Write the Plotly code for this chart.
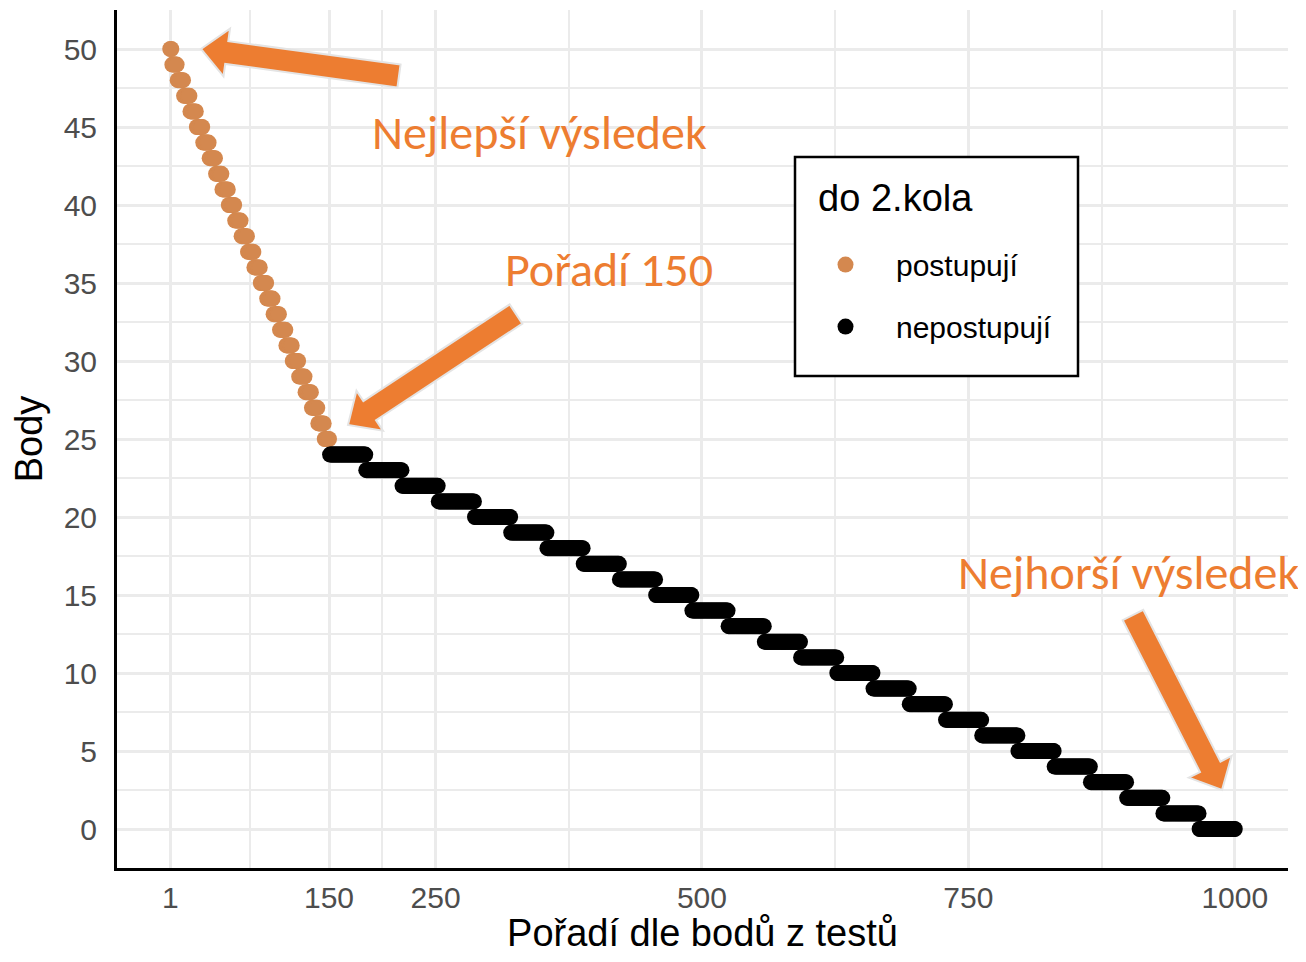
import math
import numpy as np
import plotly.graph_objects as go

# ---------------- data ----------------
# score levels of those who advance (ranks 1..150) and how many ranks share each score
adv_scores = [50, 49, 48, 47, 46, 45, 44, 43, 42, 41, 40, 39, 38,
              37, 36, 35, 34, 33, 32, 31, 30, 29, 28, 27, 26, 25]
adv_counts = [2, 5, 6, 6, 6, 6, 6, 6, 6, 6, 6, 6, 6,
              6, 6, 6, 6, 6, 6, 6, 6, 6, 6, 6, 6, 5]
# score levels of those who do not advance (ranks 151..1000)
rest_scores = [24, 23, 22, 21, 20, 19, 18, 17, 16, 15, 14, 13, 12,
               11, 10, 9, 8, 7, 6, 5, 4, 3, 2, 1, 0]
rest_counts = [34, 34, 34, 34, 34, 34, 34, 34, 34, 34, 34, 34, 34,
               34, 34, 34, 34, 34, 34, 34, 34, 34, 34, 34, 34]

x_ticks = [1, 150, 250, 500, 750, 1000]
x_minor = [75.5, 200, 375, 625, 875]
y_ticks = [0, 5, 10, 15, 20, 25, 30, 35, 40, 45, 50]
y_minor = [2.5, 7.5, 12.5, 17.5, 22.5, 27.5, 32.5, 37.5, 42.5, 47.5]

legend_title = "do 2.kola"
names = ["postupují", "nepostupují"]
x_title = "Pořadí dle bodů z testů"
y_title = "Body"

# expand to one value per rank
adv_y = np.repeat(adv_scores, adv_counts)
rest_y = np.repeat(rest_scores, rest_counts)
adv_x = np.arange(1, len(adv_y) + 1)
rest_x = np.arange(len(adv_y) + 1, len(adv_y) + len(rest_y) + 1)

# ---------------- layout geometry (page pixels; page body has 8px margin) ----------------
OFF = 8
W, H = 1306 - 2 * OFF, 962 - 2 * OFF
PLOT_L, PLOT_R, PLOT_T, PLOT_B = 117, 1288, 10, 868   # page coordinates of plot area
L_M, T_M = PLOT_L - OFF, PLOT_T - OFF
R_M, B_M = W - (PLOT_R - OFF), H - (PLOT_B - OFF)
PW, PH = PLOT_R - PLOT_L, PLOT_B - PLOT_T


def px(x, y):
    return (x - PLOT_L) / PW, (PLOT_B - y) / PH


def arrow_path(tail, tip, w=11.5, h=24, hl=26):
    tx, ty = tail
    ex, ey = tip
    dx, dy = ex - tx, ey - ty
    d = math.hypot(dx, dy)
    ux, uy = dx / d, dy / d
    nx, ny = -uy, ux
    bx, by = ex - hl * ux, ey - hl * uy
    pts = [(tx + w * nx, ty + w * ny), (bx + w * nx, by + w * ny),
           (bx + h * nx, by + h * ny), (ex, ey),
           (bx - h * nx, by - h * ny), (bx - w * nx, by - w * ny),
           (tx - w * nx, ty - w * ny)]
    parts = []
    for i, (x, y) in enumerate(pts):
        a, b = px(x, y)
        parts.append(("M" if i == 0 else "L") + f"{a:.5f},{b:.5f}")
    return " ".join(parts) + " Z"


ORANGE_PT = "#D4884F"
ORANGE = "#ED7D31"

fig = go.Figure()
fig.add_trace(go.Scatter(
    x=adv_x, y=adv_y, mode="markers", name=names[0], legendgroup="a",
    marker=dict(color=ORANGE_PT, size=16, line=dict(width=0)),
    cliponaxis=False))
fig.add_trace(go.Scatter(
    x=rest_x, y=rest_y, mode="markers", name=names[1], legendgroup="b",
    marker=dict(color="black", size=16, line=dict(width=0)),
    cliponaxis=False))

shapes = []
for tail, tip in [((399, 76), (201, 49)), ((516, 314), (348, 425)),
                  ((1133, 615), (1222, 790))]:
    shapes.append(dict(type="path", xref="paper", yref="paper",
                       path=arrow_path(tail, tip), fillcolor=ORANGE,
                       line=dict(color="#E4E4E4", width=2), layer="above"))

# legend frame
bx0, by0 = px(795, 157)
bx1, by1 = px(1078, 376)
shapes.append(dict(type="rect", xref="paper", yref="paper",
                   x0=bx0, y0=by0, x1=bx1, y1=by1,
                   fillcolor="white", line=dict(color="black", width=2.5),
                   layer="above"))

ann_font = dict(family="Carlito, Lato, sans-serif", size=48, color=ORANGE)
annotations = []
for text, (x, y) in [("Nejlepší výsledek", (370, 133)),
                     ("Pořadí 150", (503, 270)),
                     ("Nejhorší výsledek", (956, 572))]:
    a, b = px(x, y)
    annotations.append(dict(text=text, x=a, y=b, xref="paper", yref="paper",
                            xanchor="left", yanchor="middle", showarrow=False,
                            font=ann_font))

lx, ly = px(795, 184)

fig.update_layout(
    width=W, height=H,
    margin=dict(l=L_M, r=R_M, t=T_M, b=B_M, autoexpand=False),
    paper_bgcolor="white", plot_bgcolor="white",
    font=dict(family="Liberation Sans, Arial, sans-serif"),
    shapes=shapes, annotations=annotations,
    legend=dict(
        title=dict(text="<span style='font-size:38px'>&nbsp;&nbsp;" + legend_title + "</span><br> ",
                   font=dict(size=21, color="black")),
        font=dict(size=30, color="black"),
        x=lx, y=ly, xanchor="left", yanchor="top",
        borderwidth=0, bgcolor="rgba(0,0,0,0)",
        tracegroupgap=20, itemwidth=91,
    ),
    xaxis=dict(
        range=[-48.95, 1049.95], tickmode="array", tickvals=x_ticks,
        ticktext=[str(v) for v in x_ticks],
        showgrid=True, gridcolor="#EBEBEB", gridwidth=2.5,
        minor=dict(tickmode="array", tickvals=x_minor, showgrid=True,
                   gridcolor="#EBEBEB", gridwidth=2),
        zeroline=False, showline=True, linecolor="black", linewidth=3,
        ticks="", ticklabelstandoff=1,
        tickfont=dict(size=30, color="#4D4D4D"),
        title=dict(text=x_title, font=dict(size=38, color="black"), standoff=21),
    ),
    yaxis=dict(
        range=[-2.5, 52.5], tickmode="array", tickvals=y_ticks,
        showgrid=True, gridcolor="#EBEBEB", gridwidth=2.5,
        minor=dict(tickmode="array", tickvals=y_minor, showgrid=True,
                   gridcolor="#EBEBEB", gridwidth=2),
        zeroline=False, showline=True, linecolor="black", linewidth=3,
        ticks="", ticklabelstandoff=11,
        tickfont=dict(size=30, color="#4D4D4D"),
        title=dict(text=y_title, font=dict(size=38, color="black"), standoff=12),
    ),
)

fig.write_html("out.html")
